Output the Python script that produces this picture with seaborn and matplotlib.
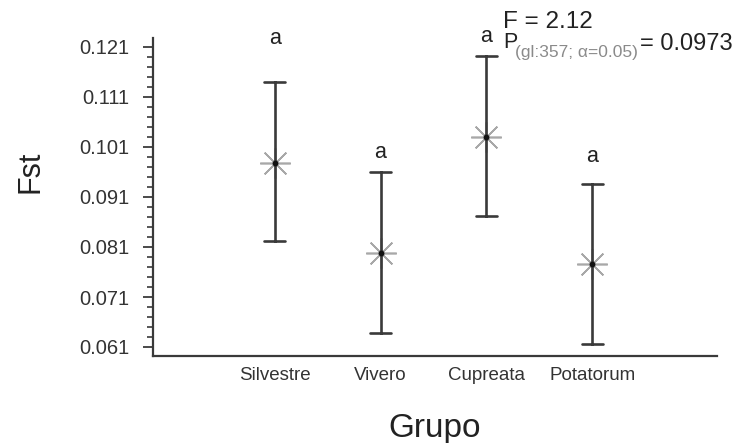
import numpy as np
import pandas as pd
import matplotlib
matplotlib.use("Agg")
import matplotlib.pyplot as plt
from matplotlib.ticker import FixedLocator, MultipleLocator, FormatStrFormatter
import seaborn as sns

# Fst por grupo: media e intervalo (limite inferior / superior)
grupos = ["Silvestre", "Vivero", "Cupreata", "Potatorum"]
fst_media = [0.0978, 0.0798, 0.1030, 0.0776]
fst_inferior = [0.0822, 0.0638, 0.0872, 0.0616]
fst_superior = [0.1140, 0.0960, 0.1192, 0.0936]

# letras de agrupamiento y su altura
letras = ["a", "a", "a", "a"]
letra_y = [0.1226, 0.0998, 0.1232, 0.0990]

y_ticks = [0.061, 0.071, 0.081, 0.091, 0.101, 0.111, 0.121]

f_texto = "F = 2.12"
p_sub = "(gl:357; \u03b1=0.05)"
p_valor = "= 0.0973"

# tabla larga: limite inferior, media y limite superior por grupo
tabla = pd.DataFrame({
    "Grupo": np.repeat(grupos, 3),
    "Fst": np.column_stack([fst_inferior, fst_media, fst_superior]).ravel(),
})

sns.set_style("ticks")
plt.rcParams["font.family"] = ["Liberation Sans", "DejaVu Sans"]

W, H = 743, 443
fig = plt.figure(figsize=(W / 100, H / 100), dpi=100)
ax = fig.add_axes([153 / W, 1 - 356 / H, 564 / W, 318 / H])

oscuro = "#3a3a3a"
sns.pointplot(
    data=tabla, x="Grupo", y="Fst", order=grupos,
    estimator="median", errorbar=("pi", 100), capsize=0.2,
    color=oscuro, linestyle="none", marker=(8, 2, 0),
    markersize=22, markeredgewidth=1.2,
    err_kws={"linewidth": 1.9}, ax=ax,
)
for ln in ax.lines:
    if ln.get_marker() not in (None, "None", "", " "):
        ln.set_markeredgecolor("#a8a8a8")
        ln.set_markerfacecolor("#a8a8a8")
        ln.set_zorder(2)
    else:
        ln.set_zorder(3)

# punto central de cada media
sns.pointplot(
    data=tabla, x="Grupo", y="Fst", order=grupos,
    estimator="median", errorbar=None, color="#111111",
    linestyle="none", marker="o", markersize=2.2, ax=ax,
)
for ln in ax.lines[-1:]:
    ln.set_zorder(4)

for i, (letra, yy) in enumerate(zip(letras, letra_y)):
    ax.text(i, yy, letra, ha="center", va="center", fontsize=15.5, color="#222222")

ax.set_xlim(-1.15, 4.18)
ax.set_ylim(0.0592, 0.1228)
ax.yaxis.set_major_locator(FixedLocator(y_ticks))
ax.yaxis.set_minor_locator(MultipleLocator(0.002, offset=0.001))
ax.yaxis.set_major_formatter(FormatStrFormatter("%.3f"))

sns.despine(ax=ax)
for s in ("left", "bottom"):
    ax.spines[s].set_color(oscuro)
    ax.spines[s].set_linewidth(1.6)

ax.tick_params(axis="y", which="major", length=7, width=1.3, color=oscuro,
               labelsize=14.5, labelcolor="#333333", pad=10)
ax.tick_params(axis="y", which="minor", length=4, width=1.2, color=oscuro)
ax.tick_params(axis="x", length=0, labelsize=13.5, labelcolor="#333333", pad=8)

ax.set_xlabel("Grupo", fontsize=24, color="#222222", labelpad=21)
ax.set_ylabel("Fst", fontsize=22, color="#222222")
ax.yaxis.set_label_coords(-0.19, 0.58)

# estadistico F y probabilidad
fig.text(503 / W, 1 - 28 / H, f_texto, fontsize=17.5, color="#222222", va="baseline")
fig.text(503 / W, 1 - 48.5 / H, "P", fontsize=15.5, color="#222222", va="baseline")
fig.text(515 / W, 1 - 57 / H, p_sub, fontsize=12.5, color="#8a8a8a", va="baseline")
fig.text(640 / W, 1 - 50 / H, p_valor, fontsize=17, color="#222222", va="baseline")

fig.savefig("out.png", dpi=100)
